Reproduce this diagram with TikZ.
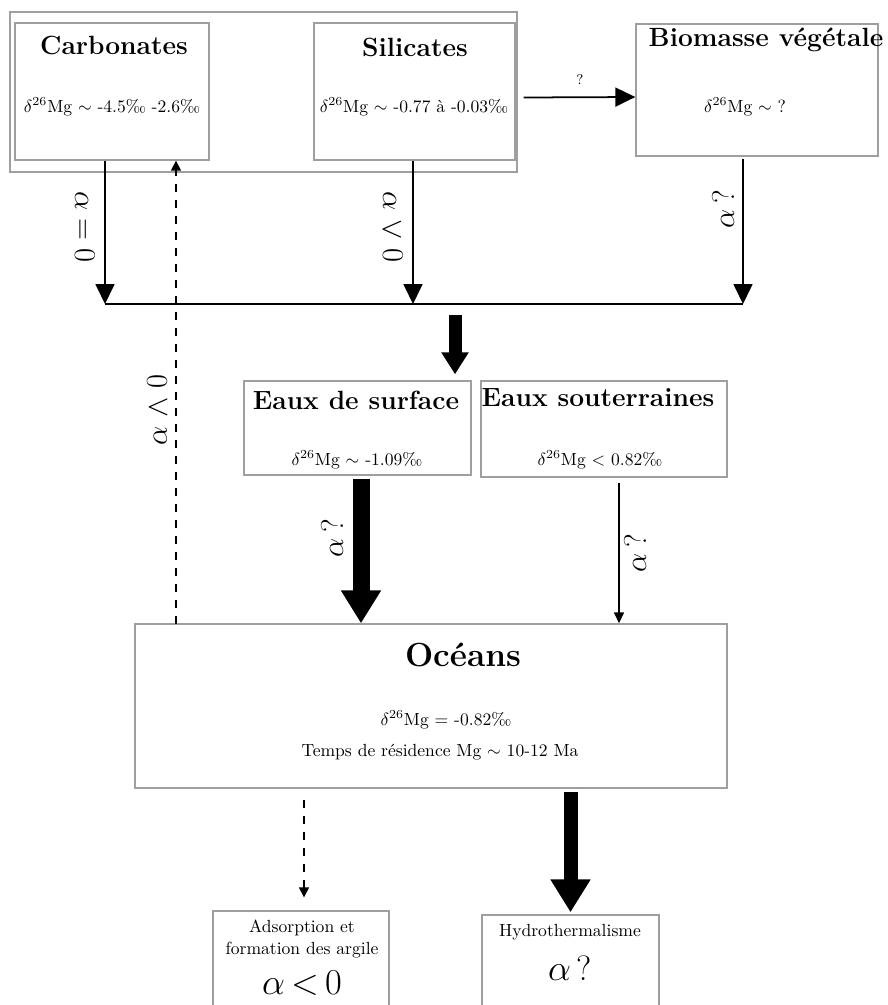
\documentclass[tikz,border=0pt]{standalone}
\usepackage{amsmath, amssymb}
\usepackage{tikz}
\usetikzlibrary{arrows.meta, positioning, calc}
\usepackage{xcolor}

\newcommand{\dMg}{$\delta^{26}$Mg}

\begin{document}
\begin{tikzpicture}[x=0.02cm, y=-0.02cm,
    box/.style={draw=gray!75, line width=0.8pt, inner sep=0pt},
    ttl/.style={font=\fontsize{15}{17}\selectfont\bfseries},
    val/.style={font=\fontsize{10}{12}\selectfont},
    lbl/.style={font=\fontsize{18}{20}\selectfont},
    flow/.style={-{Triangle[length=0.4cm,width=0.38cm]}, line width=1pt},
    thinflow/.style={-{Triangle[length=0.22cm,width=0.2cm]}, line width=0.8pt},
    dflow/.style={-{Triangle[length=0.2cm,width=0.2cm]}, line width=0.9pt, dash pattern=on 0.16cm off 0.16cm},
    bigflow/.style={-{Triangle[length=0.66cm,width=0.76cm]}, line width=0.34cm}]
    \clip (0,0) rectangle (887,1005);
    \fill[white] (0,0) rectangle (887,1005);
    % sources
    \node[box, minimum width=10.14cm, minimum height=3.2cm] (roche) at (263.5,92) {};
    \node[box, minimum width=3.88cm, minimum height=2.74cm] (carb) at (112,91.5) {};
    \node[box, minimum width=4.02cm, minimum height=2.74cm] (sil) at (414.5,91.5) {};
    \node[box, minimum width=4.84cm, minimum height=2.64cm] (bio) at (757,90) {};
    \node[ttl] (carbT) at (114,45) {Carbonates};
    \node[val] (carbV) at (112,107) {\dMg{} $\sim$ -4.5\textperthousand{} -2.6\textperthousand};
    \node[ttl] (silT) at (415,47) {Silicates};
    \node[val] (silV) at (414,107) {\dMg{} $\sim$ -0.77 à -0.03\textperthousand};
    \node[ttl] (bioT) at (766,40) {Biomasse végétale};
    \node[val] (bioV) at (745,107) {\dMg{} $\sim$ ?};
    % eaux
    \node[box, minimum width=4.54cm, minimum height=1.88cm] (surf) at (357.5,428) {};
    \node[box, minimum width=4.92cm, minimum height=1.92cm] (sout) at (604,429) {};
    \node[ttl] (surfT) at (356,400) {Eaux de surface};
    \node[val] (surfV) at (357,460) {\dMg{} $\sim$ -1.09\textperthousand};
    \node[ttl] (soutT) at (598,398) {Eaux souterraines};
    \node[val] (soutV) at (600,460) {\dMg{} < 0.82\textperthousand};
    % oceans
    \node[box, minimum width=11.84cm, minimum height=3.28cm] (ocean) at (431,706) {};
    \node[font=\fontsize{19}{22}\selectfont\bfseries] (oceanT) at (463,655) {Océans};
    \node[val] (oceanV) at (446,720) {\dMg{} = -0.82\textperthousand};
    \node[val] (oceanR) at (440,752) {Temps de résidence Mg $\sim$ 10-12 Ma};
    % puits
    \node[box, minimum width=3.52cm, minimum height=2.08cm] (adsorp) at (301,963) {};
    \node[box, minimum width=3.54cm, minimum height=2cm] (hydro) at (570.5,965) {};
    \node[val, align=center] (adsorpT) at (302,939) {Adsorption et\\formation des argile};
    \node[font=\fontsize{20}{22}\selectfont] (adsorpA) at (302,983) {$\alpha\,{<}\,0$};
    \node[val] (hydroT) at (570,932) {Hydrothermalisme};
    \node[font=\fontsize{20}{22}\selectfont] (hydroA) at (570,968) {$\alpha$\,?};
    % flux
    \coordinate (j1) at (105,304);
    \coordinate (j2) at (413,304);
    \coordinate (j3) at (743,304);
    \coordinate (j4) at (455,315);
    \coordinate (k1) at ([xshift=0.3cm]sout.south);
    \coordinate (d1) at (176,624);
    \draw[flow] (carb.south -| j1) -- (j1);
    \draw[flow] (sil.south -| j2) -- (j2);
    \draw[flow] ([yshift=-0.04cm]bio.south -| j3) -- (j3);
    \draw[line width=1.1pt] (j1) -- (j3);
    \draw[flow] ([xshift=0.16cm,yshift=-0.12cm]sil.east) -- ([yshift=-0.14cm]bio.west);
    \node[font=\fontsize{8}{9}\selectfont] (q1) at (580,80) {?};
    \draw[-{Triangle[length=0.44cm,width=0.52cm]}, line width=0.26cm] (j4) -- ([yshift=0.12cm]j4 |- surf.north);
    \draw[bigflow, shorten <=0.06cm] ([xshift=0.07cm]surf.south) -- ([xshift=0.07cm]surf.south |- ocean.north);
    \draw[thinflow, shorten <=0.1cm] (k1) -- (k1 |- ocean.north);
    \draw[dflow] (d1) -- (d1 |- carb.south);
    \draw[dflow, shorten <=0.22cm, shorten >=0.26cm] ([xshift=0.06cm]ocean.south -| adsorp.north) -- ([xshift=0.06cm]adsorp.north);
    \draw[bigflow, line width=0.28cm, shorten <=0.06cm, shorten >=0.04cm] (ocean.south -| hydro.north) -- (hydro.north);
    % fractionnements
    \node[lbl, rotate=-90] (aCarb) at (85,227) {$\alpha = 0$};
    \node[lbl, rotate=-90] (aSil) at (393,227) {$\alpha \mathrel{\vee} 0$};
    \node[lbl, rotate=90] (aBio) at (723,209) {$\alpha$\,?};
    \node[lbl, rotate=90] (aClay) at (157,410) {$\alpha \mathrel{\wedge} 0$};
    \node[lbl, rotate=90] (aSurf) at (332,538) {$\alpha$\,?};
    \node[lbl, rotate=90] (aSout) at (635,553) {$\alpha$\,?};
\end{tikzpicture}
\end{document}
